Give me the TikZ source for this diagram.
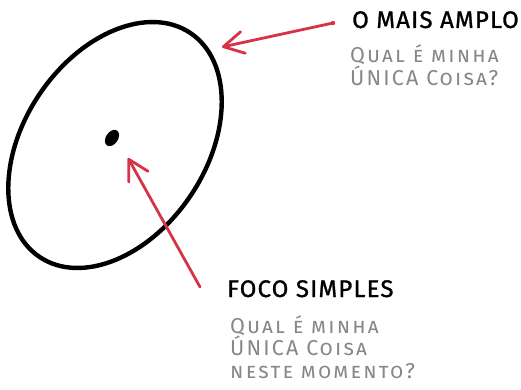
\documentclass[tikz,border=0pt]{standalone}
\usepackage{fontspec}
\setmainfont{Fira Sans}
\newfontfamily\headfont[LetterSpace=5,FakeBold=1.2]{Fira Sans}
\newfontfamily\subfont[Letters=SmallCaps,LetterSpace=10]{Fira Sans}
\usetikzlibrary{arrows.meta}
\definecolor{arrowred}{RGB}{214,51,72}
\definecolor{textgray}{RGB}{135,135,135}
\tikzset{
  outline/.style={line width=4.4pt, draw=black},
  pointer/.style={line width=2.8pt, draw=arrowred, line cap=round,
    -{Straight Barb[length=20pt,width=22pt,line cap=round,line join=round]}},
  headtext/.style={anchor=base west, inner sep=0pt, font=\headfont\fontsize{24}{24}\selectfont, text=black},
  subtext/.style={anchor=base west, inner sep=0pt, text=textgray,
    font=\subfont\fontsize{21.5}{21.5}\selectfont},
}
\begin{document}
\begin{tikzpicture}[x=1pt,y=1pt]
\useasboundingbox (0,0) rectangle (521,389);
% big ellipse
\draw[outline] (115,244) ellipse[x radius=135, y radius=91, rotate=56];
% focus dot
\fill[black] (112,251) ellipse[x radius=9, y radius=6, rotate=56];
% arrow anchor points
\coordinate (a1s) at (333,366);
\coordinate (a1e) at (222,342);
\coordinate (a2s) at (200,102);
\coordinate (a2e) at (128,231);
\fill[arrowred] (a1s) circle (2.2);
\draw[pointer] (a1s) -- (a1e);
\draw[pointer] (a2s) -- (a2e);
% texts
\node[headtext] (amplo) at (352,361) {O MAIS AMPLO};
\node[subtext] (amploq1) at (350,326) {Qual é minha};
\node[subtext] (amploq2) at (350,304) {ÚNICA Coisa?};
\node[headtext] (foco) at (227,92) {FOCO SIMPLES};
\node[subtext] (focoq1) at (230,56) {Qual é minha};
\node[subtext] (focoq2) at (230,34) {ÚNICA Coisa};
\node[subtext] (focoq3) at (230,11) {neste momento?};
\end{tikzpicture}
\end{document}
